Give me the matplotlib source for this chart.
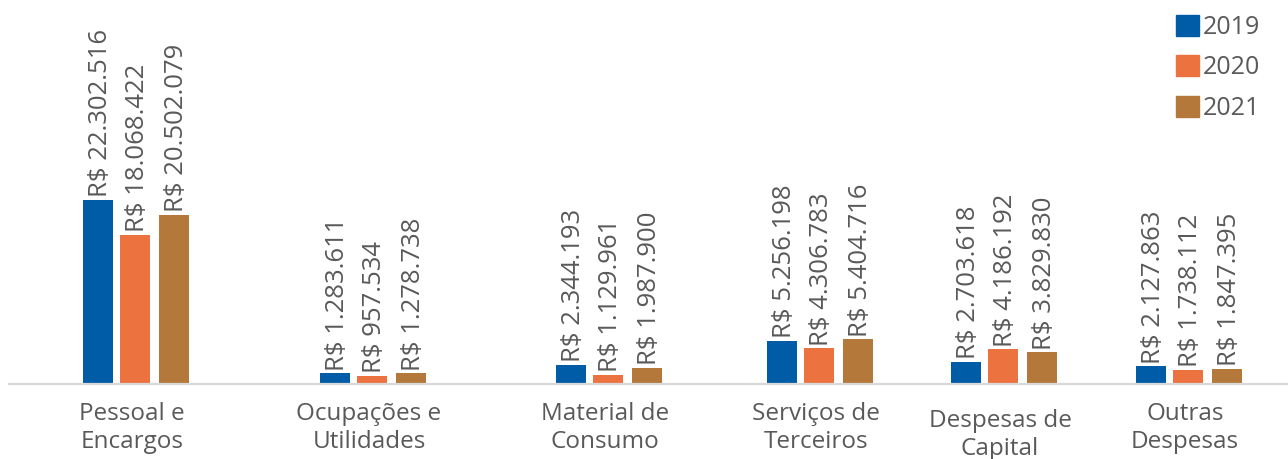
import numpy as np
from matplotlib import pyplot as plt

categorias = ['Pessoal e\nEncargos', 'Ocupações e\nUtilidades', 'Material de\nConsumo',
              'Serviços de\nTerceiros', 'Despesas de\nCapital', 'Outras\nDespesas']
anos = ['2019', '2020', '2021']
v2019 = [22302516, 1283611, 2344193, 5256198, 2703618, 2127863]
v2020 = [18068422, 957534, 1129961, 4306783, 4186192, 1738112]
v2021 = [20502079, 1278738, 1987900, 5404716, 3829830, 1847395]

cores = ['#005CA6', '#EC7340', '#B4783A']

plt.rcParams['font.family'] = ['Open Sans', 'DejaVu Sans']

fig = plt.figure(figsize=(12.88, 4.59), dpi=100)
ax = fig.add_axes([0, 1 - 384 / 459, 1, 384 / 459])

# group centres along the axis (in figure pixels) and bar offsets
centros = np.array([135, 372, 608, 819, 1003, 1188])
desloc = [-37, 0, 39]
largura = 30

for serie, cor, d in zip([v2019, v2020, v2021], cores, desloc):
    bars = ax.bar(centros + d, serie, width=largura, color=cor)
    for b, v in zip(bars, serie):
        txt = 'R$ ' + f'{v:,}'.replace(',', '.')
        ax.annotate(txt, (b.get_x() + b.get_width() / 2, v), xytext=(1.5, 2),
                    textcoords='offset points', rotation=90, ha='center', va='bottom',
                    fontsize=18.5, color='#595959')

ax.set_xlim(0, 1288)
ax.set_ylim(0, 46.5e6)
ax.axis('off')
ax.plot([8, 1288], [0, 0], color='#d9d9d9', lw=1.6, clip_on=False, solid_capstyle='butt')

for i, (c, nome) in enumerate(zip(centros, categorias)):
    desc = -18 if i == 4 else -13
    ax.annotate(nome, (c - 3, 0), xycoords=('data', 'axes fraction'), xytext=(0, desc),
                textcoords='offset points', ha='center', va='top', fontsize=17.5,
                color='#595959', linespacing=1.2, annotation_clip=False)

handles = [plt.Rectangle((0, 0), 1, 1, color=c) for c in cores]
ax.legend(handles, anos, loc='upper right', bbox_to_anchor=(0.9955, 1.02),
          frameon=False, fontsize=18, handlelength=0.9, handleheight=0.9,
          handletextpad=0.15, labelspacing=0.62, labelcolor='#595959')

fig.savefig('out.png', dpi=100)
